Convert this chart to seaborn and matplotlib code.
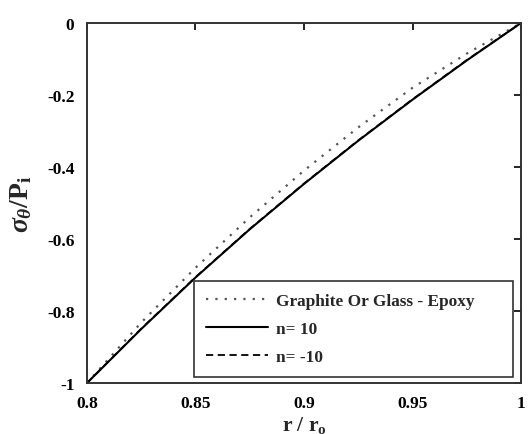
import matplotlib
matplotlib.use("Agg")
import matplotlib.pyplot as plt
import seaborn as sns
import pandas as pd

# data
r_ratio = [0.800, 0.825, 0.850, 0.875, 0.900, 0.925, 0.950, 0.975, 1.000]
graphite = [-1.000, -0.832, -0.680, -0.540, -0.410, -0.290, -0.180, -0.085, 0.000]
n_pos10 = [-1.000, -0.850, -0.707, -0.573, -0.447, -0.327, -0.213, -0.104, 0.000]
n_neg10 = [-1.000, -0.849, -0.706, -0.572, -0.446, -0.326, -0.212, -0.103, 0.000]
labels = ["Graphite Or Glass - Epoxy", "n= 10", "n= -10"]
xticks = [0.8, 0.85, 0.9, 0.95, 1.0]
xticklabels = ["0.8", "0.85", "0.9", "0.95", "1"]
yticks = [-1, -0.8, -0.6, -0.4, -0.2, 0]
yticklabels = ["-1", "-0.8", "-0.6", "-0.4", "-0.2", "0"]

sns.set_style("white")
plt.rcParams['font.family'] = ['Liberation Serif', 'DejaVu Serif']
plt.rcParams['font.weight'] = 'bold'
plt.rcParams['mathtext.fontset'] = 'custom'
plt.rcParams['mathtext.rm'] = 'Liberation Serif:bold'
plt.rcParams['mathtext.it'] = 'Liberation Serif:italic:bold'
plt.rcParams['mathtext.bf'] = 'Liberation Serif:bold'

fig = plt.figure(figsize=(5.28, 4.35), dpi=100)
ax = fig.add_axes([87/528, 1-384/435, (521-87)/528, (384-24)/435])

df = pd.DataFrame({"x": r_ratio, "g": graphite, "p": n_pos10, "n": n_neg10})
sns.lineplot(data=df, x="x", y="g", ax=ax, color="#555555", linestyle=(0, (1, 3.2)),
             linewidth=1.6, label=labels[0])
sns.lineplot(data=df, x="x", y="p", ax=ax, color="black", linestyle="-",
             linewidth=1.5, label=labels[1])
sns.lineplot(data=df, x="x", y="n", ax=ax, color="black", linestyle=(0, (4, 2.5)),
             linewidth=1.3, label=labels[2])

ax.set_xlim(0.8, 1.0)
ax.set_ylim(-1, 0)
ax.set_xticks(xticks)
ax.set_xticklabels(xticklabels)
ax.set_yticks(yticks)
ax.set_yticklabels(yticklabels)
ax.tick_params(direction="in", top=True, right=True, length=5, width=1.2,
               labelsize=12.5, pad=9, colors="black")
for lab in ax.get_xticklabels() + ax.get_yticklabels():
    lab.set_fontweight("bold")
for s in ax.spines.values():
    s.set_linewidth(1.4)
    s.set_color("#333333")

ax.set_xlabel(r"r / r$_\mathrm{o}$", fontsize=15.5, fontweight="bold", labelpad=2)
ax.set_ylabel(r"$\sigma_\theta$/P$_\mathrm{i}$", fontsize=20, fontweight="bold", labelpad=9)

x0 = (194 - 87) / 434
x1 = (513 - 87) / 434
y0 = (384 - 378) / 360
leg = ax.legend(loc="lower left", bbox_to_anchor=(x0, y0, x1 - x0, 0.3), mode="expand",
                borderaxespad=0, frameon=True,
                fancybox=False, edgecolor="#333333", handlelength=3.6,
                labelspacing=0.7, borderpad=0.7, handletextpad=0.47,
                prop={"weight": "bold", "size": 12.4})
leg.get_frame().set_linewidth(1.2)
leg.get_frame().set_alpha(1)

fig.savefig("out.png", dpi=100)
